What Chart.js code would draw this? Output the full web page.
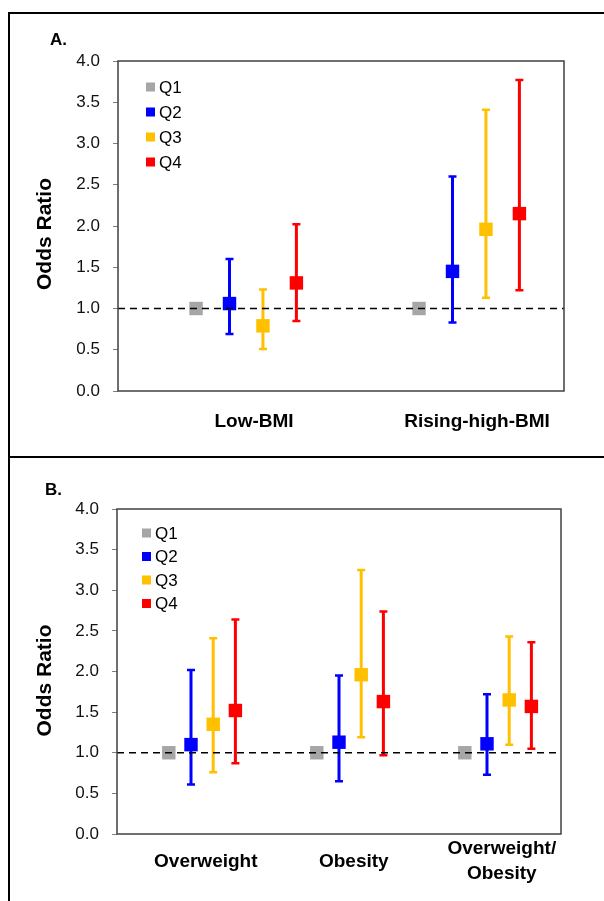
<!DOCTYPE html>
<html>
<head>
<meta charset="utf-8">
<script src="https://cdn.jsdelivr.net/npm/chart.js@4.4.0/dist/chart.umd.min.js"></script>
<style>
html,body{margin:0;padding:0;background:#fff;}
#wrap{position:relative;width:604px;height:901px;overflow:hidden;background:#fff;}
#wrap canvas{position:absolute;left:0;}
.ln{position:absolute;background:#000;z-index:5;}
</style>
</head>
<body>
<div id="wrap">
  <canvas id="cA" width="604" height="457" style="top:0px"></canvas>
  <canvas id="cB" width="604" height="444" style="top:457px"></canvas>
  <div class="ln" style="left:8px;top:12px;width:596px;height:2px"></div>
  <div class="ln" style="left:8px;top:12px;width:2px;height:889px"></div>
  <div class="ln" style="left:8px;top:456px;width:596px;height:2px"></div>
</div>
<script>
// ---------- data ----------
const seriesNames  = ['Q1', 'Q2', 'Q3', 'Q4'];
const seriesColors = ['#A6A6A6', '#0000FF', '#FFC000', '#FF0000'];
const yTickValues  = [0, 0.5, 1, 1.5, 2, 2.5, 3, 3.5, 4];
const refValue     = 1.0;

// Panel A
const catsA  = ['Low-BMI', 'Rising-high-BMI'];
const aQ1    = [1.00, 1.00];
const aQ2    = [1.06, 1.45];
const aQ2lo  = [0.69, 0.83];
const aQ2hi  = [1.60, 2.60];
const aQ3    = [0.79, 1.96];
const aQ3lo  = [0.51, 1.13];
const aQ3hi  = [1.23, 3.41];
const aQ4    = [1.31, 2.15];
const aQ4lo  = [0.85, 1.22];
const aQ4hi  = [2.02, 3.77];

// Panel B
const catsB  = ['Overweight', 'Obesity', ['Overweight/', 'Obesity']];
const bQ1    = [1.00, 1.00, 1.00];
const bQ2    = [1.10, 1.13, 1.11];
const bQ2lo  = [0.61, 0.65, 0.73];
const bQ2hi  = [2.02, 1.95, 1.72];
const bQ3    = [1.35, 1.96, 1.65];
const bQ3lo  = [0.76, 1.19, 1.10];
const bQ3hi  = [2.41, 3.25, 2.43];
const bQ4    = [1.52, 1.63, 1.57];
const bQ4lo  = [0.87, 0.97, 1.05];
const bQ4hi  = [2.64, 2.74, 2.36];

// ---------- layout / style ----------
const seriesOffset = [-0.15, 0, 0.15, 0.30]; // within a category (category width = 1)
const FONT = "'Liberation Sans', Arial, sans-serif";

const errorBars = {
  id: 'errorBars',
  beforeDatasetsDraw(chart) {
    const {ctx, scales: {x, y}} = chart;
    chart.data.datasets.forEach(ds => {
      if (!ds.lo) return;
      ctx.save();
      ctx.strokeStyle = ds.backgroundColor;
      ctx.lineCap = 'butt';
      ds.data.forEach((p, i) => {
        const px = x.getPixelForValue(p.x);
        const yl = y.getPixelForValue(ds.lo[i]);
        const yh = y.getPixelForValue(ds.hi[i]);
        ctx.lineWidth = 3;
        ctx.beginPath(); ctx.moveTo(px, yl); ctx.lineTo(px, yh); ctx.stroke();
        ctx.lineWidth = 2.5;
        ctx.beginPath();
        ctx.moveTo(px - 4, yl); ctx.lineTo(px + 4, yl);
        ctx.moveTo(px - 4, yh); ctx.lineTo(px + 4, yh);
        ctx.stroke();
      });
      ctx.restore();
    });
  }
};

const decor = {
  id: 'decor',
  afterDatasetsDraw(chart) {
    const {ctx, chartArea: ca, scales: {y}} = chart;
    const yr = y.getPixelForValue(refValue);
    ctx.save();
    ctx.setLineDash([7, 5]);
    ctx.lineWidth = 1.5;
    ctx.strokeStyle = '#000';
    ctx.beginPath(); ctx.moveTo(ca.left, yr); ctx.lineTo(ca.right, yr); ctx.stroke();
    ctx.restore();
  },
  afterDraw(chart, args, o) {
    const {ctx, chartArea: ca} = chart;
    ctx.save();
    // plot frame
    ctx.strokeStyle = '#404040';
    ctx.lineWidth = 1.5;
    ctx.strokeRect(ca.left, ca.top, ca.right - ca.left, ca.bottom - ca.top);
    // legend
    ctx.font = '17px ' + FONT;
    ctx.textBaseline = 'middle';
    ctx.textAlign = 'left';
    chart.data.datasets.forEach((ds, j) => {
      const cy = ca.top + o.legTop + j * o.legStep;
      const lx = ca.left + o.legLeft;
      ctx.fillStyle = ds.backgroundColor;
      ctx.fillRect(lx, cy - 4.5, 9, 9);
      ctx.fillStyle = '#000';
      ctx.fillText(ds.label, lx + 13, cy + 1);
    });
    // panel letter
    ctx.font = 'bold 17px ' + FONT;
    ctx.fillText(o.panel, o.panelX, o.panelY);
    // y-axis title
    ctx.translate(o.titleX, (ca.top + ca.bottom) / 2 + o.titleDy);
    ctx.rotate(-Math.PI / 2);
    ctx.textAlign = 'center';
    ctx.font = 'bold 21px ' + FONT;
    ctx.fillText('Odds Ratio', 0, 0);
    ctx.restore();
  }
};

function makeChart(id, cats, vals, los, his, geo) {
  const datasets = seriesNames.map((name, j) => ({
    label: name,
    data: vals[j].map((v, i) => ({x: i + 0.5 + seriesOffset[j], y: v})),
    lo: los[j], hi: his[j],
    backgroundColor: seriesColors[j],
    borderColor: seriesColors[j],
    pointStyle: 'rect',
    pointRadius: 9.5,
    pointHoverRadius: 9.5,
    pointBorderWidth: 0,
    showLine: false
  }));
  return new Chart(document.getElementById(id), {
    type: 'scatter',
    data: {datasets},
    plugins: [errorBars, decor],
    options: {
      responsive: false,
      animation: false,
      events: [],
      layout: {padding: {left: 0, top: geo.top, right: geo.right, bottom: 0}},
      plugins: {
        legend: {display: false},
        tooltip: {enabled: false},
        decor: geo.decor
      },
      scales: {
        x: {
          type: 'linear', min: 0, max: cats.length,
          afterBuildTicks: s => { s.ticks = cats.map((c, i) => ({value: i + geo.labelShift})); },
          afterFit: s => { s.height = geo.xHeight; },
          ticks: {
            autoSkip: false, maxRotation: 0, minRotation: 0,
            padding: geo.xPad, crossAlign: geo.crossAlign,
            color: '#000',
            font: {family: FONT, size: 19, weight: 'bold', lineHeight: 1.32},
            callback: (v, i) => cats[i]
          },
          grid: {display: false, drawTicks: false},
          border: {display: false}
        },
        y: {
          type: 'linear', min: 0, max: 4,
          afterBuildTicks: s => { s.ticks = yTickValues.map(v => ({value: v})); },
          afterFit: s => { s.width = geo.yWidth; },
          ticks: {
            padding: 13, color: '#111',
            font: {family: FONT, size: 17},
            callback: v => Number(v).toFixed(1)
          },
          grid: {drawOnChartArea: false, drawTicks: true, tickLength: 5, color: '#7f7f7f', lineWidth: 1},
          border: {display: false}
        }
      }
    }
  });
}

makeChart('cA', catsA,
  [aQ1, aQ2, aQ3, aQ4],
  [null, aQ2lo, aQ3lo, aQ4lo],
  [null, aQ2hi, aQ3hi, aQ4hi],
  {top: 61, right: 40, yWidth: 118, xHeight: 66, xPad: 18, crossAlign: 'near', labelShift: 0.61,
   decor: {panel: 'A.', panelX: 50, panelY: 40, titleX: 45, titleDy: 8, legLeft: 28, legTop: 26, legStep: 25}});

makeChart('cB', catsB,
  [bQ1, bQ2, bQ3, bQ4],
  [null, bQ2lo, bQ3lo, bQ4lo],
  [null, bQ2hi, bQ3hi, bQ4hi],
  {top: 52, right: 43, yWidth: 117, xHeight: 67, xPad: 15, crossAlign: 'center', labelShift: 0.6,
   decor: {panel: 'B.', panelX: 45, panelY: 33, titleX: 45, titleDy: 9, legLeft: 25, legTop: 24, legStep: 23.5}});
</script>
</body>
</html>
